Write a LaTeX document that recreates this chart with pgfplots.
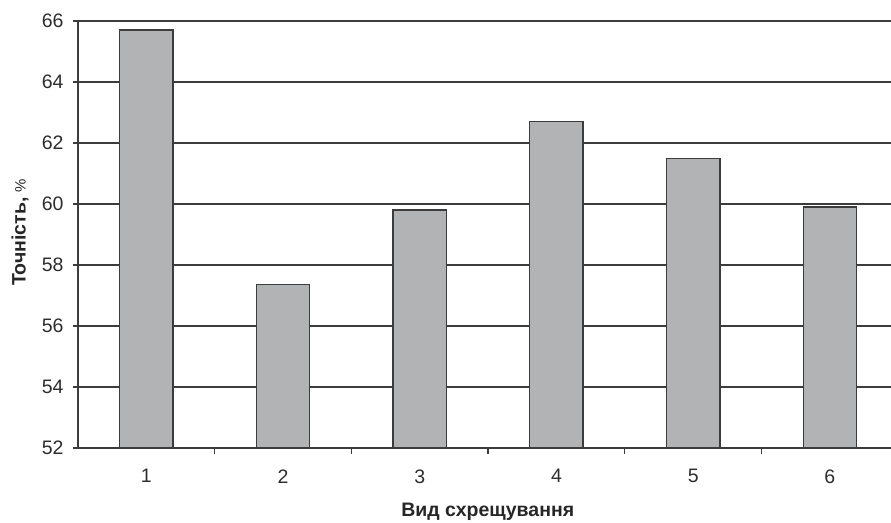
\documentclass[border=0pt]{standalone}
\usepackage{pgfplots}
\pgfplotsset{compat=1.18}
\usepackage{fontspec}
\setmainfont{Liberation Sans}
\usetikzlibrary{calc}

\definecolor{barfill}{RGB}{178,179,181}
\definecolor{edge}{RGB}{60,60,60}
\definecolor{txt}{RGB}{45,45,45}

\begin{document}
\begin{tikzpicture}
\begin{axis}[
  scale only axis,
  width=813pt, height=427pt,
  xmin=0.5, xmax=6.447,
  ymin=52, ymax=66,
  axis x line=bottom, axis y line=left,
  axis line style={-, draw=edge, line width=1.3pt},
  ytick={52,54,...,66},
  xtick={1,...,6},
  minor xtick={1.5,2.5,...,5.5},
  every major x tick/.append style={draw=none},
  every minor x tick/.append style={draw=edge, line width=1.3pt},
  ytick style={draw=edge, line width=1.3pt},
  tick align=outside,
  major tick length=5pt, minor tick length=6pt,
  ymajorgrids=true,
  grid style={draw=edge, line width=1.3pt},
  tick label style={font=\fontsize{19.5}{21}\selectfont, text=txt},
  /pgf/number format/assume math mode=true,
  xticklabel style={yshift=-13pt},
  yticklabel style={xshift=-6pt},
  xlabel={Вид схрещування},
  ylabel={Точність, {\mdseries\fontsize{15}{16}\selectfont\%}},
  label style={font=\bfseries\fontsize{19.5}{22}\selectfont, text=black!85},
  xlabel style={at={(axis description cs:0.504,0)}, anchor=center, yshift=-64pt},
  ylabel style={at={(axis description cs:-0.0713,0.505)}, anchor=center},
  ybar, bar width=0.39,
]
\addplot[fill=barfill, draw=edge, line width=1.3pt]
  coordinates {(1,65.7) (2,57.35) (3,59.8) (4,62.7) (5,61.5) (6,59.9)};
\end{axis}
\pgfresetboundingbox
\path ($(current axis.south west)+(-78pt,-75pt)$) rectangle ($(current axis.north east)+(0pt,21pt)$);
\end{tikzpicture}
\end{document}
